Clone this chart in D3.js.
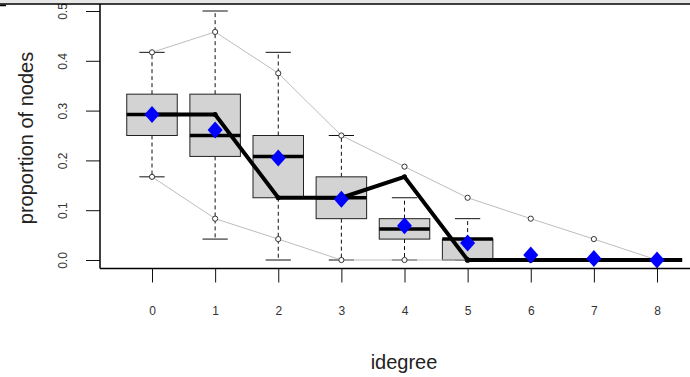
<!DOCTYPE html>
<html>
<head>
<meta charset="utf-8">
<script src="https://cdn.jsdelivr.net/npm/d3@7"></script>
<style>
  html, body { margin: 0; padding: 0; background: #fff; }
  svg { display: block; font-family: "Liberation Sans", Arial, sans-serif; }
</style>
</head>
<body>
<svg id="chart" width="690" height="377"></svg>
<script>
// In-degree categories
const idegree = [0, 1, 2, 3, 4, 5, 6, 7, 8];

// Boxplot summaries of simulated proportions per in-degree
const whiskerLow  = [0.167, 0.042, 0.000, 0.000, 0.000, 0.000, 0, 0, 0];
const hingeLow    = [0.250, 0.208, 0.125, 0.083, 0.042, 0.000, 0, 0, 0];
const medians     = [0.292, 0.250, 0.208, 0.125, 0.0625, 0.042, 0, 0, 0];
const hingeHigh   = [0.333, 0.333, 0.250, 0.167, 0.083, 0.042, 0, 0, 0];
const whiskerHigh = [0.417, 0.500, 0.417, 0.250, 0.125, 0.083, 0, 0, 0];

// Thin grey envelope (upper and lower quantile bands)
const bandUpper = [0.417, 0.458, 0.375, 0.250, 0.1875, 0.125, 0.083, 0.042, 0.000];
const bandLower = [0.167, 0.083, 0.042, 0.000, 0.000, 0.000, 0.000, 0.000, 0.000];

// Simulation means (blue diamonds)
const means = [0.292, 0.261, 0.205, 0.122, 0.069, 0.034, 0.010, 0.003, 0.000];

// Observed network distribution (thick black line), degrees 0..9
const observedDegree = [0, 1, 2, 3, 4, 5, 6, 7, 8, 9];
const observed = [0.292, 0.292, 0.125, 0.125, 0.167, 0, 0, 0, 0, 0];

const yTicks = [0, 0.1, 0.2, 0.3, 0.4, 0.5];
const yTickLabels = ["0.0", "0.1", "0.2", "0.3", "0.4", "0.5"];

const svg = d3.select("#chart");
const plot = { left: 100, right: 682, top: 4, bottom: 268.5 };

const x = d3.scaleLinear().domain([0, 8]).range([152, 657]);
const y = d3.scaleLinear().domain([0, 0.5]).range([260, 11]);

svg.append("defs").append("clipPath").attr("id", "plotclip")
  .append("rect")
  .attr("x", plot.left).attr("y", plot.top)
  .attr("width", plot.right - plot.left).attr("height", plot.bottom - plot.top);

const halfBox = 0.4, halfStaple = 0.2;

// Whiskers and staples
const boxes = svg.append("g");
idegree.forEach((d, i) => {
  const g = boxes.append("g");
  const cx = x(d);
  g.append("line").attr("x1", cx).attr("x2", cx)
    .attr("y1", y(hingeHigh[i])).attr("y2", y(whiskerHigh[i]))
    .attr("stroke", "#111").attr("stroke-dasharray", "4,3");
  g.append("line").attr("x1", cx).attr("x2", cx)
    .attr("y1", y(hingeLow[i])).attr("y2", y(whiskerLow[i]))
    .attr("stroke", "#111").attr("stroke-dasharray", "4,3");
  [whiskerHigh[i], whiskerLow[i]].forEach(v => {
    g.append("line")
      .attr("x1", x(d - halfStaple)).attr("x2", x(d + halfStaple))
      .attr("y1", y(v)).attr("y2", y(v))
      .attr("stroke", "#111");
  });
  g.append("rect")
    .attr("x", x(d - halfBox)).attr("width", x(d + halfBox) - x(d - halfBox))
    .attr("y", y(hingeHigh[i])).attr("height", Math.max(0, y(hingeLow[i]) - y(hingeHigh[i])))
    .attr("fill", "#d3d3d3").attr("stroke", "#222").attr("stroke-width", 1);
  g.append("line")
    .attr("x1", x(d - halfBox)).attr("x2", x(d + halfBox))
    .attr("y1", y(medians[i])).attr("y2", y(medians[i]))
    .attr("stroke", "#000").attr("stroke-width", 3.5);
});

// Grey envelope lines with open circles
const band = d3.line().x((d, i) => x(idegree[i])).y(d => y(d));
[bandUpper, bandLower].forEach(arr => {
  svg.append("path").attr("d", band(arr))
    .attr("fill", "none").attr("stroke", "#bdbdbd").attr("stroke-width", 1);
  svg.append("g").selectAll("circle").data(arr).join("circle")
    .attr("cx", (d, i) => x(idegree[i])).attr("cy", d => y(d)).attr("r", 2.6)
    .attr("fill", "#fff").attr("stroke", "#333").attr("stroke-width", 1);
});

// Observed distribution
const obsLine = d3.line().x((d, i) => x(observedDegree[i])).y(d => y(d));
const obsG = svg.append("g").attr("clip-path", "url(#plotclip)");
obsG.append("path").attr("d", obsLine(observed))
  .attr("fill", "none").attr("stroke", "#000").attr("stroke-width", 4)
  .attr("stroke-linejoin", "miter");
obsG.selectAll("circle").data(observed).join("circle")
  .attr("cx", (d, i) => x(observedDegree[i])).attr("cy", d => y(d)).attr("r", 2.5)
  .attr("fill", "#000");

// Mean diamonds
const dw = 7.5, dh = 8.5;
svg.append("g").selectAll("path").data(means).join("path")
  .attr("d", (d, i) => {
    const cx = x(idegree[i]), cy = y(d);
    return `M${cx},${cy - dh}L${cx + dw},${cy}L${cx},${cy + dh}L${cx - dw},${cy}Z`;
  })
  .attr("fill", "#0000ff");

// Y axis
const yAxis = svg.append("g").attr("transform", `translate(${plot.left},0)`)
  .call(d3.axisLeft(y).tickValues(yTicks).tickSize(14)
    .tickFormat((d, i) => yTickLabels[i]));
yAxis.select(".domain").remove();
yAxis.selectAll(".tick line").attr("stroke", "#111");
yAxis.selectAll(".tick text")
  .attr("x", 0).attr("dy", 0)
  .attr("text-anchor", "middle")
  .attr("transform", "translate(-33,0) rotate(-90)")
  .attr("font-size", 12).attr("fill", "#333")
  .attr("font-family", "Liberation Sans, Arial, sans-serif");

// X axis
const xAxis = svg.append("g").attr("transform", `translate(0,${plot.bottom})`)
  .call(d3.axisBottom(x).tickValues(idegree).tickSize(14).tickPadding(24)
    .tickFormat(d3.format("d")));
xAxis.select(".domain").remove();
xAxis.selectAll(".tick line").attr("stroke", "#111");
xAxis.selectAll(".tick text")
  .attr("font-size", 12).attr("fill", "#333")
  .attr("font-family", "Liberation Sans, Arial, sans-serif");

// Frame lines
svg.append("line").attr("x1", plot.left).attr("x2", 690)
  .attr("y1", plot.bottom).attr("y2", plot.bottom)
  .attr("stroke", "#000").attr("stroke-width", 1.5);
svg.append("line").attr("x1", plot.left).attr("x2", plot.left)
  .attr("y1", plot.top).attr("y2", plot.bottom)
  .attr("stroke", "#000").attr("stroke-width", 1.5);

// Top border strip
svg.append("rect").attr("x", 0).attr("y", 0).attr("width", 690).attr("height", 3.5)
  .attr("fill", "#e6e6e6");
svg.append("line").attr("x1", 0).attr("x2", 690).attr("y1", 4).attr("y2", 4)
  .attr("stroke", "#000").attr("stroke-width", 1.5);
svg.append("line").attr("x1", 0).attr("x2", 6).attr("y1", 5.5).attr("y2", 5.5)
  .attr("stroke", "#000").attr("stroke-width", 1.5);

// Axis titles
svg.append("text").attr("x", 404).attr("y", 369)
  .attr("text-anchor", "middle").attr("font-size", 20).attr("fill", "#222")
  .text("idegree");
svg.append("text")
  .attr("transform", "translate(33,138) rotate(-90)")
  .attr("text-anchor", "middle").attr("font-size", 20).attr("fill", "#222")
  .text("proportion of nodes");
</script>
</body>
</html>
